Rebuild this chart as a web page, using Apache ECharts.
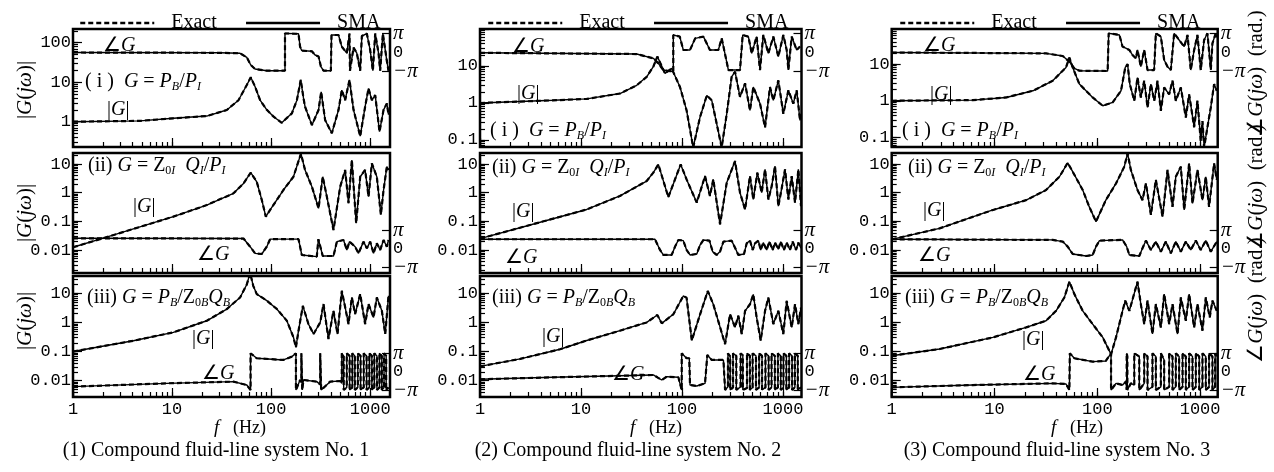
<!DOCTYPE html>
<html><head><meta charset="utf-8">
<script src="https://cdn.jsdelivr.net/npm/echarts@6/dist/echarts.min.js"></script>
<style>html,body{margin:0;padding:0;background:#fff}#c{width:1274px;height:472px}</style>
</head><body><div id="c"></div>
<script>
// ---------------- DATA ----------------
const freqTicks = [1, 10, 100, 1000];
const magTicks = [0.01, 0.1, 1, 10, 100];
const legendNames = ['Exact', 'SMA'];
const captions = ['(1) Compound fluid-line system No. 1', '(2) Compound fluid-line system No. 2', '(3) Compound fluid-line system No. 3'];

// [frequency Hz, |G|] and [frequency Hz, angle G rad]
const magC1R1 = [[1,1.0],[4.75,1.05],[10.3,1.22],[22.4,1.39],[35.7,1.98],[46.8,3.5],[56.8,8.5],[62.3,13.3],[68.9,7.7],[77.4,3.5],[90.4,2.0],[106,1.34],[128,0.94],[162,1.63],[182,3.5],[199,11.4],[212,4.0],[220,2.4],[258,0.82],[301,1.98],[320,5.7],[351,1.1],[410,0.51],[479,2.0],[517,6.3],[559,3.5],[618,11.4],[679,2.0],[793,0.43],[889,2.4],[962,7.0],[1040,3.5],[1124,4.7],[1242,0.56],[1365,2.0],[1473,2.9],[1531,1.5]];
const phC1R1 = [[1,0],[30,-0.05],[48.6,-0.13],[56.8,-0.79],[62.3,-2.05],[68.9,-2.7],[90.4,-2.98],[138,-2.98],[138,3.14],[189,3.06],[196,0.95],[204,0.3],[258,0.2],[278,-0.41],[301,-0.65],[318,-2.3],[338,-2.98],[401,-2.98],[407,2.86],[479,2.86],[517,0.95],[581,-0.1],[618,3.1],[625,-2.98],[679,0.8],[733,-0.1],[793,-2.98],[824,2.7],[925,3.1],[1000,0.4],[1064,-2.98],[1124,3.1],[1214,-0.1],[1262,-2.98],[1343,3.1],[1473,-1.4],[1531,-2.98]];

const magC1R2 = [[1,0.0125],[2.02,0.026],[10.3,0.146],[22.4,0.37],[41.7,0.95],[52.6,2.1],[62.3,5.0],[71.6,2.4],[80.5,0.56],[88.4,0.146],[97.7,0.25],[133,1.24],[168,3.6],[200,23],[220,6.2],[258,1.62],[301,0.285],[332,3.6],[365,0.73],[426,0.05],[498,1.62],[559,6.2],[604,0.43],[653,13.8],[722,0.086],[793,3.6],[889,6.2],[962,0.73],[1040,10.5],[1167,3.6],[1282,0.17],[1365,1.24],[1473,8.1],[1531,6.2]];
const phC1R2 = [[1,1.74],[52.6,1.7],[61.4,0.33],[68.9,-0.79],[80.5,-0.9],[90.4,0.33],[97.7,1.6],[189,1.6],[204,-1.07],[289,-1.35],[300,1.6],[310,1.6],[332,-1.24],[426,-1.24],[461,1.18],[538,1.46],[581,-0.22],[618,1.18],[705,0.33],[762,-0.79],[857,1.18],[925,0.05],[1000,1.18],[1081,-0.79],[1167,0.9],[1262,-0.22],[1365,1.46],[1473,0.33],[1531,1.46]];

const magC1R3 = [[1,0.1],[4.07,0.235],[10.3,0.455],[22.4,1.14],[35.7,2.88],[48.6,7.2],[56.8,20],[61.4,50],[66,18],[71.6,9.4],[90.4,5.6],[114,2.9],[144,1.15],[168,0.31],[178,0.14],[189,0.52],[209,3.7],[238,0.88],[268,0.4],[313,1.0],[338,4.27],[379,0.27],[426,2.5],[468,0.4],[517,12.2],[559,3.3],[604,0.88],[653,7.2],[705,1.94],[793,9.4],[889,0.88],[962,4.27],[1081,1.49],[1167,7.2],[1312,2.5],[1419,0.4],[1531,8.2]];
const phC1R3 = [[1,-2.57],[8.8,-2.0],[41.7,-1.71],[56.8,-2.29],[62,-3.14],[62,3.14],[71.6,2.29],[133,2.0],[162,2.57],[178,3.14],[178,-3.14],[196,-1.43],[202,-1.8],[202,3.14],[206,2.8],[206,-3.14],[212,-1.43],[289,-1.71],[313,-2.2],[313,3.14],[320,2.8],[320,-3.14],[394,-1.71],[498,-1.6],[517,-2.0],[517,3.14],[540,2.7],[540,-3.14],[580,-2.7],[580,3.14],[620,2.7],[620,-3.14],[660,-2.7],[660,3.14],[700,2.7],[700,-3.14],[750,-2.7],[750,3.14],[800,2.7],[800,-3.14],[860,-2.7],[860,3.14],[920,2.7],[920,-3.14],[980,-2.7],[980,3.14],[1040,2.7],[1040,-3.14],[1100,-2.7],[1100,3.14],[1170,2.7],[1170,-3.14],[1240,-2.7],[1240,3.14],[1310,2.7],[1310,-3.14],[1380,-2.7],[1380,3.14],[1450,2.7],[1450,-3.14],[1531,-2.7]];

const magC2R1 = [[1,1],[5.3,1.18],[11.4,1.29],[24.3,1.8],[35.6,3.0],[44.7,5.1],[52,9.6],[57,18],[67.9,6.3],[79,8.6],[95.5,2.7],[111,0.63],[129,0.063],[151,0.42],[176,1.6],[197,1.18],[247,0.063],[277,0.5],[310,5.1],[335,7],[375,1.46],[421,3.4],[471,0.63],[508,2.7],[592,0.96],[664,0.22],[743,2.7],[802,1.18],[899,4.1],[1007,0.51],[1130,2.2],[1265,0.96],[1366,2.2],[1473,0.34],[1507,0.5]];
const phC2R1 = [[1,-0.05],[35.6,-0.25],[52,-0.96],[58.3,-1.78],[65.3,-2.87],[82,-3.14],[82,2.87],[95,2.6],[103,0.41],[120,0.41],[135,2.32],[163,2.6],[189,0.41],[229,0.41],[247,2.32],[257,1.0],[288,-2.87],[375,-2.87],[399,2.87],[454,2.6],[490,-0.14],[548,2.6],[592,-2.87],[638,2.87],[716,-0.14],[802,2.6],[899,-0.68],[1007,2.87],[1087,0.41],[1130,-2.87],[1219,2.6],[1366,0.41],[1473,1.0]];

const magC2R2 = [[1,0.025],[2.49,0.06],[11.4,0.26],[24.3,0.77],[44.7,2.55],[52,5.0],[58.3,9.7],[73.2,0.7],[97,9.7],[111,2.9],[140,0.45],[169,3.8],[189,0.77],[204,2.9],[238,0.079],[277,2.2],[335,12.7],[375,1.0],[421,0.26],[471,3.8],[508,0.58],[557,5.0],[615,1.0],[664,6.5],[716,0.58],[773,1.7],[833,8.5],[899,0.34],[970,1.4],[1047,6.5],[1130,0.58],[1219,3.8],[1315,0.45],[1419,6.5],[1507,0.34]];
const phC2R2 = [[1,1.58],[54,1.58],[60.6,-0.22],[65.3,-1.06],[79,-1.06],[85.3,0.34],[92,1.46],[103,1.35],[111,-0.22],[120,-1.06],[140,-0.9],[151,0.62],[163,1.46],[187,1.35],[201,-0.5],[220,-1.06],[238,-0.5],[257,1.18],[310,1.35],[343,-0.22],[361,-1.06],[411,-0.9],[437,0.9],[471,1.35],[501,-0.22],[528,0.9],[570,1.35],[601,-0.22],[638,1.01],[689,-0.22],[732,1.18],[790,-0.22],[833,1.01],[899,-0.11],[949,1.18],[1023,-0.22],[1087,1.01],[1173,-0.22],[1247,1.18],[1345,-0.22],[1419,1.01],[1507,0.06]];

const magC2R3 = [[1,0.031],[2.5,0.056],[6.2,0.12],[11.4,0.24],[24.3,0.52],[44.7,1.0],[57,1.8],[63,0.93],[82,1.9],[103,8.1],[111,7],[125,0.24],[151,1.9],[180,12],[204,4.2],[267,0.18],[299,1.9],[335,0.68],[361,1.7],[390,0.4],[421,2.5],[471,4.2],[508,9.2],[548,1.5],[601,0.24],[664,2.5],[716,7.1],[802,0.88],[899,2.5],[1007,0.4],[1087,5.5],[1219,0.68],[1315,4.2],[1419,0.88],[1507,3.2]];
const phC2R3 = [[1,-1.31],[5.3,-0.97],[52,-0.57],[57,-0.97],[63,-1.43],[70.5,-0.86],[92,-0.97],[99.3,-3.14],[99.3,3.14],[111,2.29],[118,2.29],[120,-2.29],[140,-2.46],[169,-2.0],[178,2.86],[197,2.0],[257,2.0],[267,-3.14],[285,-2.6],[285,3.14],[300,2.6],[300,-3.14],[320,-2.7],[320,3.14],[345,2.7],[345,-3.14],[380,-2.6],[380,3.14],[400,2.8],[400,-3.14],[440,-2.8],[440,3.14],[470,2.7],[470,-3.14],[500,-2.7],[500,3.14],[540,2.7],[540,-3.14],[580,-2.7],[580,3.14],[620,2.7],[620,-3.14],[670,-2.7],[670,3.14],[720,2.7],[720,-3.14],[770,-2.7],[770,3.14],[830,2.7],[830,-3.14],[890,-2.7],[890,3.14],[950,2.7],[950,-3.14],[1010,-2.7],[1010,3.14],[1080,2.7],[1080,-3.14],[1150,-2.7],[1150,3.14],[1230,2.7],[1230,-3.14],[1310,-2.7],[1310,3.14],[1400,2.7],[1400,-3.14],[1507,-2.7]];

const magC3R1 = [[1,1],[6.16,1.04],[13,1.23],[23.6,1.87],[36.8,3.5],[49.6,8.1],[53.5,15],[57.6,8.1],[66.9,2.85],[90.1,1.23],[113,0.73],[141,0.9],[170,1.87],[187,8.1],[197,10],[207,2.85],[229,1],[246,4.3],[265,1.23],[286,3.5],[308,0.66],[332,2.85],[358,1],[385,3.5],[415,0.53],[447,2.3],[500,1.5],[539,3.5],[580,1],[649,2.3],[726,0.35],[782,1.5],[875,0.19],[942,1],[1014,0.08],[1054,0.28],[1094,0.054],[1178,0.19],[1270,0.66],[1368,2.85],[1452,1.87]];
const phC3R1 = [[1,0],[31.7,-0.14],[46.1,-0.57],[53.5,-1.5],[59.8,-2.6],[66.9,-2.98],[126,-3.03],[129,3.14],[164,2.87],[176,0.96],[205,0.41],[220,-0.41],[237,-0.96],[246,0.41],[265,-2.32],[286,0.41],[308,-2.87],[357,-2.87],[371,3.14],[415,2.6],[447,-1.23],[482,-2.32],[519,-2.87],[559,3.14],[625,2.05],[700,0.96],[754,2.87],[811,-2.87],[875,0.41],[942,2.87],[1014,-2.87],[1094,2.05],[1178,3.14],[1270,-2.87],[1318,1.5],[1419,3.14],[1452,2.5]];

const magC3R2 = [[1,0.0235],[2.92,0.057],[9.64,0.25],[20.3,0.55],[31.7,1.24],[42.8,3.6],[51.5,11],[57.6,5.4],[72.1,1.24],[83.6,0.32],[97.1,0.098],[121,0.55],[152,2.1],[183,8.1],[197,23.6],[212,6.2],[246,1.24],[275,0.55],[297,2.1],[332,0.17],[371,2.8],[431,0.145],[482,6.2],[539,0.32],[580,3.6],[649,8.1],[700,0.25],[782,10.5],[843,0.42],[942,6.2],[1054,0.55],[1135,3.6],[1222,0.32],[1368,10.5],[1452,2.8]];
const phC3R2 = [[1,1.58],[36.8,1.47],[46.1,1.19],[51.5,0.34],[57.6,-0.9],[77.6,-1.24],[90.1,-1.07],[97.1,0.34],[105,1.36],[176,1.47],[193,0.34],[205,-1.07],[256,-1.24],[275,0.06],[297,1.36],[332,-0.22],[371,1.19],[415,-0.51],[464,1.19],[519,-0.79],[580,1.19],[649,-0.51],[726,1.19],[811,-0.22],[908,1.36],[1014,-0.22],[1135,1.36],[1270,-0.51],[1452,1.19]];

const magC3R3 = [[1,0.072],[2.92,0.122],[9.64,0.306],[20.3,0.675],[31.7,1.14],[39.7,2.5],[47.8,7.2],[53.5,25],[59.8,9.4],[72.1,2.5],[90.1,0.88],[113,0.306],[136,0.08],[152,0.306],[176,2.5],[187,5.6],[205,2.5],[246,25],[265,4.27],[286,0.88],[308,5.6],[344,0.4],[371,4.27],[415,0.675],[447,9.4],[500,0.88],[539,4.27],[603,0.4],[649,7.2],[726,1.14],[782,9.4],[875,0.675],[942,4.27],[1054,0.52],[1135,7.2],[1241,1.5],[1318,5.6],[1452,2.5]];
const phC3R3 = [[1,-2.69],[6.16,-2.29],[36.8,-2.0],[49.6,-2.11],[53.5,-3.14],[54,3.14],[59.8,2.29],[90.1,1.71],[121,1.83],[136,3.14],[136,-3.14],[152,-2.0],[176,-2.29],[190,-1.7],[193,-3.14],[193,3.14],[196,2.6],[196,-3.14],[212,-2.0],[229,-2.3],[229,3.14],[256,2.6],[256,-3.14],[286,-2.0],[286,3.14],[308,2.6],[308,-3.14],[344,-2.6],[344,3.14],[371,2.6],[371,-3.14],[415,-2.6],[415,3.14],[447,2.0],[447,-3.14],[500,-2.6],[500,3.14],[539,2.6],[539,-3.14],[580,-2.6],[580,3.14],[625,2.6],[625,-3.14],[675,-2.6],[675,3.14],[726,2.6],[726,-3.14],[782,-2.6],[782,3.14],[843,2.6],[843,-3.14],[908,-2.6],[908,3.14],[980,2.6],[980,-3.14],[1054,-2.6],[1054,3.14],[1135,2.6],[1135,-3.14],[1222,-2.6],[1222,3.14],[1318,2.6],[1318,-3.14],[1400,-2.6],[1400,3.14],[1452,2.6]];

// ---------------- LAYOUT ----------------
const PANELS = [
  [magC1R1, phC1R1], [magC2R1, phC2R1], [magC3R1, phC3R1],
  [magC1R2, phC1R2], [magC2R2, phC2R2], [magC3R2, phC3R2],
  [magC1R3, phC1R3], [magC2R3, phC2R3], [magC3R3, phC3R3]
];
const COLS = [
  {left: 73, width: 317, xMax: 3.2},
  {left: 480, width: 321.5, xMax: 3.183},
  {left: 891.7, width: 326, xMax: 3.171}
];
const ROWS = [
  {top: 29, height: 118, phTop: 33.3, phH: 38.4},
  {top: 153, height: 120, phTop: 230, phH: 37.3},
  {top: 276, height: 121, phTop: 353.3, phH: 36.7}
];
const YR = [
  [[-0.64, 2.347], [-1.19, 2.0], [-1.26, 1.955]],
  [[-2.8, 1.384], [-2.8, 1.384], [-2.8, 1.384]],
  [[-2.56, 1.594], [-2.56, 1.594], [-2.56, 1.594]]
];
const SERIF = 'Liberation Serif', MONO = 'Liberation Mono';

function logTicks(min, max) {
  const out = [];
  for (let d = Math.floor(min); d <= Math.ceil(max); d++)
    for (let k = 1; k < 10; k++) { const v = d + Math.log10(k); if (v >= min - 1e-9 && v <= max + 1e-9) out.push(v); }
  return out;
}
function decadeTicks(min, max) {
  const out = [];
  for (let d = Math.ceil(min); d <= Math.floor(max); d++) out.push(d);
  return out;
}
function fmtFrom(list) {
  return v => { const t = list.find(t => Math.abs(Math.log10(t) - v) < 1e-6); return t === undefined ? '' : String(t); };
}

const grid = [], xAxis = [], yAxis = [], series = [];
const tickStyle = {color: '#000', width: 1.2};
const PI_RICH = {p: {fontFamily: SERIF, fontStyle: 'italic', fontSize: 21, color: '#000'}, z: {fontFamily: MONO, fontSize: 17, color: '#000'}};
// magnitude grids
for (let r = 0; r < 3; r++) for (let c = 0; c < 3; c++) {
  const i = r * 3 + c, C = COLS[c], R = ROWS[r], yr = YR[r][c];
  grid.push({left: C.left, top: R.top, width: C.width, height: R.height, show: true, borderColor: '#000', borderWidth: 2.5, backgroundColor: 'transparent', containLabel: false, outerBoundsMode: 'none'});
  xAxis.push({type: 'value', gridIndex: i, position: 'bottom', min: 0, max: C.xMax, axisLine: {show: false, onZero: false}, splitLine: {show: false},
    axisTick: {show: true, inside: true, length: 5, lineStyle: tickStyle, customValues: logTicks(0, C.xMax)},
    axisLabel: {show: r === 2, customValues: freqTicks.map(Math.log10), formatter: fmtFrom(freqTicks), margin: 4, fontFamily: MONO, fontSize: 17, color: '#000', hideOverlap: false, showMinLabel: true, showMaxLabel: true}});
  yAxis.push({type: 'value', gridIndex: i, position: 'left', min: yr[0], max: yr[1], axisLine: {show: false, onZero: false}, splitLine: {show: false},
    axisTick: {show: true, inside: true, length: 5, lineStyle: tickStyle, customValues: logTicks(yr[0], yr[1])},
    axisLabel: {show: true, customValues: magTicks.map(Math.log10).filter(v => v > yr[0] + 0.05 && v < yr[1] - 0.05), formatter: fmtFrom(magTicks), margin: 2, fontFamily: MONO, fontSize: 17, color: '#000', hideOverlap: false}});
}
// phase grids (±π labels)
for (let r = 0; r < 3; r++) for (let c = 0; c < 3; c++) {
  const i = 9 + r * 3 + c, C = COLS[c], R = ROWS[r];
  grid.push({left: C.left, top: R.phTop, width: C.width, height: R.phH, show: false, containLabel: false, outerBoundsMode: 'none'});
  xAxis.push({type: 'value', gridIndex: i, min: 0, max: C.xMax, show: false, axisLine: {onZero: false}});
  yAxis.push({type: 'value', gridIndex: i, position: 'right', min: -Math.PI, max: Math.PI, axisLine: {show: false, onZero: false}, splitLine: {show: false},
    axisTick: {show: true, inside: true, length: 8, lineStyle: tickStyle, customValues: [-Math.PI, Math.PI]},
    axisLabel: {show: true, customValues: [-Math.PI, Math.PI], margin: 3, hideOverlap: false, showMinLabel: true, showMaxLabel: true,
      formatter: v => v > 0 ? '{p|π}' : '{p|−π}', rich: PI_RICH}});
}
// extra axes: longer decade ticks on magnitude grids
for (let r = 0; r < 3; r++) for (let c = 0; c < 3; c++) {
  const i = r * 3 + c, C = COLS[c], yr = YR[r][c];
  xAxis.push({type: 'value', gridIndex: i, position: 'bottom', min: 0, max: C.xMax, axisLine: {show: false, onZero: false}, splitLine: {show: false},
    axisLabel: {show: false}, axisTick: {show: true, inside: true, length: 9, lineStyle: tickStyle, customValues: decadeTicks(0, C.xMax)}});
  yAxis.push({type: 'value', gridIndex: i, position: 'left', min: yr[0], max: yr[1], axisLine: {show: false, onZero: false}, splitLine: {show: false},
    axisLabel: {show: false}, axisTick: {show: true, inside: true, length: 9, lineStyle: tickStyle, customValues: decadeTicks(yr[0], yr[1])}});
}
// extra axes: the "0" label of each phase scale
for (let r = 0; r < 3; r++) for (let c = 0; c < 3; c++) {
  const i = 9 + r * 3 + c;
  yAxis.push({type: 'value', gridIndex: i, position: 'right', min: -Math.PI, max: Math.PI, axisLine: {show: false, onZero: false}, splitLine: {show: false},
    axisTick: {show: false}, axisLabel: {show: true, customValues: [0], margin: 3, hideOverlap: false, formatter: () => '{z|0}', rich: PI_RICH}});
}
// series
PANELS.forEach((p, i) => {
  const mag = p[0].map(d => [Math.log10(d[0]), Math.log10(d[1])]);
  const ph = p[1].map(d => [Math.log10(d[0]), d[1]]);
  [[mag, i], [ph, 9 + i]].forEach(([data, ax]) => {
    series.push({name: legendNames[0], type: 'line', xAxisIndex: ax, yAxisIndex: ax, data, symbol: 'none', showSymbol: false, z: 2,
      lineStyle: {color: '#000', width: 2.2, type: [5, 3]}, itemStyle: {color: '#000'}, emphasis: {disabled: true}});
    series.push({name: legendNames[1], type: 'line', xAxisIndex: ax, yAxisIndex: ax, data, symbol: 'none', showSymbol: false, z: 3,
      lineStyle: {color: '#000', width: 1.4, type: 'solid'}, itemStyle: {color: '#000'}, emphasis: {disabled: true}});
  });
});

// ---------------- TEXT ----------------
const RICH = {
  n: {fontFamily: SERIF, fontSize: 20, color: '#000', lineHeight: 22},
  i: {fontFamily: SERIF, fontSize: 20, fontStyle: 'italic', color: '#000', lineHeight: 22},
  s: {fontFamily: SERIF, fontSize: 12, fontStyle: 'italic', color: '#000', verticalAlign: 'bottom', lineHeight: 22},
  z: {fontFamily: SERIF, fontSize: 12, color: '#000', verticalAlign: 'bottom', lineHeight: 22}
};
const RICH_T = {
  n: {fontFamily: SERIF, fontSize: 21, color: '#000'},
  i: {fontFamily: SERIF, fontSize: 21, fontStyle: 'italic', color: '#000'}
};
const T_ANG = '{n|∠}{i|G}';
const T_ABS = '{n||}{i|G}{n||}';
const T_1 = '{n|( i )  }{i|G}{n| = }{i|P}{s|B}{n|/}{i|P}{s|I}';
const T_2 = '{n|(ii) }{i|G}{n| = }{n|Z}{z|0}{s|I}{n|  }{i|Q}{s|I}{n|/}{i|P}{s|I}';
const T_3 = '{n|(iii) }{i|G}{n| = }{i|P}{s|B}{n|/}{n|Z}{z|0}{s|B}{i|Q}{s|B}';
const ANNOT = [
  [T_ANG, 103, 35], [T_1, 85, 71], [T_ABS, 107, 99],
  [T_2, 88, 155], [T_ABS, 133, 196], [T_ANG, 197, 244],
  [T_3, 87, 287], [T_ABS, 192, 328], [T_ANG, 202, 363],
  [T_ANG, 512, 36], [T_ABS, 517, 83], [T_1, 490, 120],
  [T_2, 492, 157], [T_ABS, 512, 201], [T_ANG, 505, 247],
  [T_3, 492, 287], [T_ABS, 542, 326], [T_ANG, 612, 364],
  [T_ANG, 923, 35], [T_ABS, 930, 84], [T_1, 902, 120],
  [T_2, 908, 157], [T_ABS, 923, 200], [T_ANG, 918, 245],
  [T_3, 905, 287], [T_ABS, 1022, 329], [T_ANG, 1023, 364]
];
const graphic = [];
ANNOT.forEach(([t, x, y]) => graphic.push({type: 'text', x, y, silent: true, style: {text: t, rich: RICH, align: 'left', verticalAlign: 'top'}}));
const T_MAG = '{n||}{i|G}{n|(}{i|jω}{n|)|}';
const T_PH = '{n|∠}{i|G}{n|(}{i|jω}{n|)  (rad.)}';
[[T_MAG, 25, 90], [T_MAG, 25, 213], [T_MAG, 25, 321], [T_PH, 1256, 73], [T_PH, 1256, 187], [T_PH, 1256, 300]].forEach(([t, x, y]) =>
  graphic.push({type: 'text', x, y, rotation: Math.PI / 2, silent: true, style: {text: t, rich: RICH_T, align: 'center', verticalAlign: 'middle'}}));
[240, 656, 1077].forEach(x => graphic.push({type: 'text', x, y: 428, silent: true,
  style: {text: '{i|f}{n|   (Hz)}', rich: {i: {fontFamily: SERIF, fontStyle: 'italic', fontSize: 19, color: '#000'}, n: {fontFamily: SERIF, fontSize: 18, color: '#000'}}, align: 'center', verticalAlign: 'middle'}}));
[216, 628, 1057].forEach((x, k) => graphic.push({type: 'text', x, y: 451, silent: true,
  style: {text: captions[k], fontFamily: SERIF, fontSize: 20, fill: '#000', align: 'center', verticalAlign: 'middle'}}));

const legend = [74, 482, 894].map(l => ({
  data: legendNames, left: l, top: 8, itemWidth: 74, itemHeight: 14, itemGap: 28, selectedMode: false,
  lineStyle: {width: 2.5}, itemStyle: {opacity: 0, borderWidth: 0},
  textStyle: {fontFamily: SERIF, fontSize: 20, color: '#000', padding: [0, 0, 0, 12]}
}));

const chart = echarts.init(document.getElementById('c'), null, {renderer: 'canvas'});
chart.setOption({animation: false, backgroundColor: '#fff', grid, xAxis, yAxis, series, legend, graphic});
</script>
</body></html>
